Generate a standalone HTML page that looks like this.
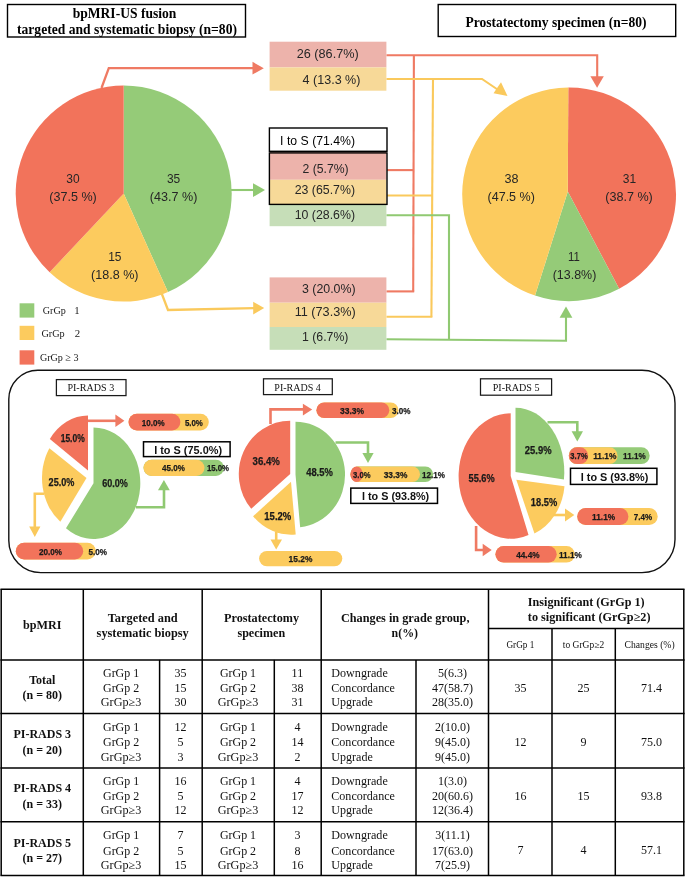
<!DOCTYPE html>
<html><head><meta charset="utf-8"><title>Figure</title>
<style>html,body{margin:0;padding:0;background:#fff}svg{display:block;will-change:transform}text{white-space:pre}</style>
</head><body>
<svg width="685" height="879" viewBox="0 0 685 879">
<rect x="0" y="0" width="685" height="879" fill="#fff"/>
<rect x="7.5" y="4.5" width="238.0" height="32.5" fill="#fff" stroke="#000" stroke-width="1.4"/>
<text x="124.5" y="18.2" font-family="'Liberation Serif', serif" font-size="13.6" font-weight="bold" text-anchor="middle" fill="#000" textLength="103.7" lengthAdjust="spacingAndGlyphs">bpMRI-US fusion</text>
<text x="127.0" y="34.1" font-family="'Liberation Serif', serif" font-size="13.6" font-weight="bold" text-anchor="middle" fill="#000" textLength="220.0" lengthAdjust="spacingAndGlyphs">targeted and systematic biopsy (n=80)</text>
<rect x="438.2" y="4.5" width="237.5" height="32.0" fill="#fff" stroke="#000" stroke-width="1.4"/>
<text x="556.0" y="26.8" font-family="'Liberation Serif', serif" font-size="13.6" font-weight="bold" text-anchor="middle" fill="#000" textLength="181.0" lengthAdjust="spacingAndGlyphs">Prostatectomy specimen (n=80)</text>
<polyline points="101.5,88.0 108.8,68.2 254.0,68.2" fill="none" stroke="#EF7A63" stroke-width="2.3" stroke-linejoin="miter"/>
<polygon points="252.5,61.8 263.8,68.2 252.5,74.6" fill="#EF7A63"/>
<polyline points="386.4,55.3 597.2,55.3 597.2,77.0" fill="none" stroke="#EF7A63" stroke-width="2.1" stroke-linejoin="miter"/>
<polygon points="590.4,76.3 603.8,76.3 597.1,87.8" fill="#EF7A63"/>
<polyline points="413.9,55.3 413.2,291.4" fill="none" stroke="#EF7A63" stroke-width="2.1" stroke-linejoin="miter"/>
<polyline points="387.0,170.1 413.7,170.1" fill="none" stroke="#EF7A63" stroke-width="2.1" stroke-linejoin="miter"/>
<polyline points="386.4,291.4 414.2,291.4" fill="none" stroke="#EF7A63" stroke-width="2.1" stroke-linejoin="miter"/>
<polyline points="161.5,293.0 168.0,310.0 254.0,308.2" fill="none" stroke="#FAC95C" stroke-width="2.3" stroke-linejoin="miter"/>
<polygon points="253.2,301.8 264.2,308.1 253.2,314.4" fill="#FAC95C"/>
<polyline points="386.4,79.0 482.0,79.0 499.0,90.5" fill="none" stroke="#FAC95C" stroke-width="2.1" stroke-linejoin="miter"/>
<polygon points="507.5,96.0 493.5,93.2 501.0,82.2" fill="#FAC95C"/>
<polyline points="433.0,79.0 431.4,316.8" fill="none" stroke="#FAC95C" stroke-width="2.1" stroke-linejoin="miter"/>
<polyline points="387.0,195.5 432.7,195.5" fill="none" stroke="#FAC95C" stroke-width="2.1" stroke-linejoin="miter"/>
<polyline points="386.4,316.8 432.4,316.8" fill="none" stroke="#FAC95C" stroke-width="2.1" stroke-linejoin="miter"/>
<polyline points="231.0,190.0 254.0,190.0" fill="none" stroke="#90C972" stroke-width="2.1" stroke-linejoin="miter"/>
<polygon points="253.0,183.2 265.0,190.0 253.0,197.0" fill="#90C972"/>
<polyline points="386.4,215.3 449.0,215.3 449.0,339.6" fill="none" stroke="#90C972" stroke-width="2.1" stroke-linejoin="miter"/>
<polyline points="386.4,339.2 566.0,340.8 566.0,317.0" fill="none" stroke="#90C972" stroke-width="2.1" stroke-linejoin="miter"/>
<polygon points="559.6,317.8 572.4,317.8 566.0,306.4" fill="#90C972"/>
<path d="M123.70,193.60 L123.70,85.60 A108,108 0 0 1 167.97,292.11 Z" fill="#95CB78"/>
<path d="M123.70,193.60 L167.97,292.11 A108,108 0 0 1 49.63,272.20 Z" fill="#FCCB5E"/>
<path d="M123.70,193.60 L49.63,272.20 A108,108 0 0 1 123.70,85.60 Z" fill="#F2735B"/>
<text x="73.0" y="183.2" font-family="'Liberation Sans', sans-serif" font-size="12.2" font-weight="normal" text-anchor="middle" fill="#262626" textLength="13.3" lengthAdjust="spacingAndGlyphs">30</text>
<text x="73.0" y="201.0" font-family="'Liberation Sans', sans-serif" font-size="12.2" font-weight="normal" text-anchor="middle" fill="#262626" textLength="47.5" lengthAdjust="spacingAndGlyphs">(37.5 %)</text>
<text x="173.6" y="183.2" font-family="'Liberation Sans', sans-serif" font-size="12.2" font-weight="normal" text-anchor="middle" fill="#262626" textLength="13.3" lengthAdjust="spacingAndGlyphs">35</text>
<text x="173.6" y="201.0" font-family="'Liberation Sans', sans-serif" font-size="12.2" font-weight="normal" text-anchor="middle" fill="#262626" textLength="47.5" lengthAdjust="spacingAndGlyphs">(43.7 %)</text>
<text x="114.8" y="261.0" font-family="'Liberation Sans', sans-serif" font-size="12.2" font-weight="normal" text-anchor="middle" fill="#262626" textLength="13.3" lengthAdjust="spacingAndGlyphs">15</text>
<text x="114.8" y="278.8" font-family="'Liberation Sans', sans-serif" font-size="12.2" font-weight="normal" text-anchor="middle" fill="#262626" textLength="47.5" lengthAdjust="spacingAndGlyphs">(18.8 %)</text>
<path d="M567.80,191.50 L568.30,87.40 A106.9,106.9 0 0 1 619.14,288.77 Z" fill="#F2735B"/>
<path d="M567.80,191.50 L619.14,288.77 A106.9,106.9 0 0 1 535.03,295.62 Z" fill="#95CB78"/>
<path d="M567.80,191.50 L535.03,295.62 A106.9,106.9 0 0 1 568.30,87.40 Z" fill="#FCCB5E"/>
<text x="511.5" y="183.0" font-family="'Liberation Sans', sans-serif" font-size="12.2" font-weight="normal" text-anchor="middle" fill="#262626" textLength="14.0" lengthAdjust="spacingAndGlyphs">38</text>
<text x="511.2" y="201.4" font-family="'Liberation Sans', sans-serif" font-size="12.2" font-weight="normal" text-anchor="middle" fill="#262626" textLength="47.3" lengthAdjust="spacingAndGlyphs">(47.5 %)</text>
<text x="629.5" y="183.0" font-family="'Liberation Sans', sans-serif" font-size="12.2" font-weight="normal" text-anchor="middle" fill="#262626" textLength="13.3" lengthAdjust="spacingAndGlyphs">31</text>
<text x="629.0" y="201.4" font-family="'Liberation Sans', sans-serif" font-size="12.2" font-weight="normal" text-anchor="middle" fill="#262626" textLength="47.5" lengthAdjust="spacingAndGlyphs">(38.7 %)</text>
<text x="574.0" y="260.6" font-family="'Liberation Sans', sans-serif" font-size="12.2" font-weight="normal" text-anchor="middle" fill="#262626" textLength="11.8" lengthAdjust="spacingAndGlyphs">11</text>
<text x="574.5" y="278.7" font-family="'Liberation Sans', sans-serif" font-size="12.2" font-weight="normal" text-anchor="middle" fill="#262626" textLength="43.6" lengthAdjust="spacingAndGlyphs">(13.8%)</text>
<rect x="269.6" y="41.7" width="116.8" height="25.7" fill="#EDB3AB"/>
<rect x="269.6" y="67.4" width="116.8" height="23.3" fill="#F7D998"/>
<text x="327.7" y="58.3" font-family="'Liberation Sans', sans-serif" font-size="12.2" font-weight="normal" text-anchor="middle" fill="#262626" textLength="61.9" lengthAdjust="spacingAndGlyphs">26 (86.7%)</text>
<text x="331.5" y="84.0" font-family="'Liberation Sans', sans-serif" font-size="12.2" font-weight="normal" text-anchor="middle" fill="#262626" textLength="57.8" lengthAdjust="spacingAndGlyphs">4 (13.3 %)</text>
<rect x="269.6" y="152.0" width="116.8" height="27.8" fill="#EDB3AB"/>
<rect x="269.6" y="179.8" width="116.8" height="24.8" fill="#F7D998"/>
<rect x="269.6" y="204.6" width="116.8" height="21.6" fill="#C6DEB8"/>
<rect x="269.4" y="128.0" width="117.6" height="23.3" fill="#fff" stroke="#000" stroke-width="1.4"/>
<rect x="269.4" y="152.9" width="117.6" height="51.5" fill="none" stroke="#000" stroke-width="1.4"/>
<text x="317.6" y="144.8" font-family="'Liberation Sans', sans-serif" font-size="12.2" font-weight="normal" text-anchor="middle" fill="#000" textLength="75.0" lengthAdjust="spacingAndGlyphs">I to S (71.4%)</text>
<text x="325.6" y="173.1" font-family="'Liberation Sans', sans-serif" font-size="12.2" font-weight="normal" text-anchor="middle" fill="#262626" textLength="46.1" lengthAdjust="spacingAndGlyphs">2 (5.7%)</text>
<text x="324.9" y="194.4" font-family="'Liberation Sans', sans-serif" font-size="12.2" font-weight="normal" text-anchor="middle" fill="#262626" textLength="60.4" lengthAdjust="spacingAndGlyphs">23 (65.7%)</text>
<text x="324.9" y="218.9" font-family="'Liberation Sans', sans-serif" font-size="12.2" font-weight="normal" text-anchor="middle" fill="#262626" textLength="60.4" lengthAdjust="spacingAndGlyphs">10 (28.6%)</text>
<rect x="269.6" y="277.4" width="116.8" height="25.3" fill="#EDB3AB"/>
<rect x="269.6" y="302.7" width="116.8" height="24.3" fill="#F7D998"/>
<rect x="269.6" y="327.0" width="116.8" height="22.8" fill="#C6DEB8"/>
<text x="328.8" y="292.9" font-family="'Liberation Sans', sans-serif" font-size="12.2" font-weight="normal" text-anchor="middle" fill="#262626" textLength="53.7" lengthAdjust="spacingAndGlyphs">3 (20.0%)</text>
<text x="325.2" y="315.9" font-family="'Liberation Sans', sans-serif" font-size="12.2" font-weight="normal" text-anchor="middle" fill="#262626" textLength="61.0" lengthAdjust="spacingAndGlyphs">11 (73.3%)</text>
<text x="325.2" y="341.0" font-family="'Liberation Sans', sans-serif" font-size="12.2" font-weight="normal" text-anchor="middle" fill="#262626" textLength="46.4" lengthAdjust="spacingAndGlyphs">1 (6.7%)</text>
<rect x="19.6" y="303.3" width="14.7" height="14.3" fill="#95CB78"/>
<rect x="19.6" y="325.8" width="14.7" height="14.2" fill="#FCCB5E"/>
<rect x="19.6" y="350.3" width="14.7" height="14.3" fill="#F2735B"/>
<text x="42.8" y="313.5" font-family="'Liberation Serif', serif" font-size="10.8" fill="#1a1a1a" textLength="23.0" lengthAdjust="spacingAndGlyphs">GrGp</text>
<text x="74.2" y="313.5" font-family="'Liberation Serif', serif" font-size="10.8" fill="#1a1a1a">1</text>
<text x="41.4" y="336.9" font-family="'Liberation Serif', serif" font-size="10.8" fill="#1a1a1a" textLength="23.3" lengthAdjust="spacingAndGlyphs">GrGp</text>
<text x="74.7" y="336.9" font-family="'Liberation Serif', serif" font-size="10.8" fill="#1a1a1a">2</text>
<text x="39.9" y="360.6" font-family="'Liberation Serif', serif" font-size="10.8" fill="#1a1a1a" textLength="38.7" lengthAdjust="spacingAndGlyphs">GrGp ≥ 3</text>
<path d="M37.8,370.3 H642.0 A33,33 0 0 1 675.0,403.3 V539.6 A33,33 0 0 1 642.0,572.6 H40.8 A32,32 0 0 1 8.8,540.6 V399.3 A29,29 0 0 1 37.8,370.3 Z" fill="none" stroke="#111" stroke-width="1.4"/>
<rect x="56.4" y="379.6" width="69.6" height="16.0" fill="#fff" stroke="#1a1a1a" stroke-width="1.25"/>
<text x="90.8" y="391.4" font-family="'Liberation Serif', serif" font-size="10" font-weight="normal" text-anchor="middle" fill="#111" textLength="46.8" lengthAdjust="spacingAndGlyphs">PI-RADS 3</text>
<path d="M93.50,483.20 L93.50,427.40 A46.8,55.8 0 1 1 65.99,528.34 Z" fill="#95CB78"/>
<path d="M86.50,478.00 L60.34,521.69 A44.5,54 0 0 1 49.39,448.20 Z" fill="#FCCB5E"/>
<path d="M88.00,470.50 L49.83,438.95 A46.6,55 0 0 1 88.00,415.50 Z" fill="#F2735B"/>
<polyline points="88.0,420.8 116.0,420.8" fill="none" stroke="#EF7A63" stroke-width="2.6" stroke-linejoin="miter"/>
<polygon points="115.4,414.6 124.4,420.8 115.4,427.0" fill="#EF7A63"/>
<rect x="128.5" y="413.7" width="80.3" height="16.7" fill="#FCCB5E" rx="8.349999999999994" ry="8.349999999999994"/>
<rect x="128.5" y="413.7" width="51.9" height="16.7" fill="#F2735B" rx="8.349999999999994" ry="8.349999999999994"/>
<text x="153.2" y="425.5" font-family="'Liberation Sans', sans-serif" font-size="9.3" font-weight="bold" text-anchor="middle" fill="#1a1a1a" textLength="22.8" lengthAdjust="spacingAndGlyphs" stroke="#1a1a1a" stroke-width="0.25">10.0%</text>
<text x="193.9" y="425.5" font-family="'Liberation Sans', sans-serif" font-size="9.3" font-weight="bold" text-anchor="middle" fill="#1a1a1a" textLength="18.0" lengthAdjust="spacingAndGlyphs" stroke="#1a1a1a" stroke-width="0.25">5.0%</text>
<rect x="143.5" y="441.8" width="86.6" height="14.8" fill="#fff" stroke="#000" stroke-width="1.5"/>
<text x="188.1" y="454.1" font-family="'Liberation Sans', sans-serif" font-size="10.8" font-weight="bold" text-anchor="middle" fill="#111" textLength="67.9" lengthAdjust="spacingAndGlyphs">I to S (75.0%)</text>
<rect x="143.5" y="459.8" width="80.5" height="16.1" fill="#95CB78" rx="8.049999999999983" ry="8.049999999999983"/>
<rect x="143.5" y="459.8" width="61.0" height="16.1" fill="#FCCB5E" rx="8.049999999999983" ry="8.049999999999983"/>
<text x="173.5" y="471.3" font-family="'Liberation Sans', sans-serif" font-size="9.3" font-weight="bold" text-anchor="middle" fill="#1a1a1a" textLength="22.8" lengthAdjust="spacingAndGlyphs" stroke="#1a1a1a" stroke-width="0.25">45.0%</text>
<text x="218.0" y="471.3" font-family="'Liberation Sans', sans-serif" font-size="9.3" font-weight="bold" text-anchor="middle" fill="#1a1a1a" textLength="22.2" lengthAdjust="spacingAndGlyphs" stroke="#1a1a1a" stroke-width="0.25">15.0%</text>
<polyline points="136.0,507.3 164.0,507.3 164.0,489.5" fill="none" stroke="#90C972" stroke-width="2.6" stroke-linejoin="miter"/>
<polygon points="158.0,490.2 169.8,490.2 163.9,480.0" fill="#90C972"/>
<polyline points="44.0,493.7 34.8,493.7 34.8,527.0" fill="none" stroke="#FAC95C" stroke-width="2.6" stroke-linejoin="miter"/>
<polygon points="29.2,526.6 40.4,526.6 34.8,537.0" fill="#FAC95C"/>
<rect x="15.8" y="542.8" width="80.0" height="16.7" fill="#FCCB5E" rx="8.350000000000023" ry="8.350000000000023"/>
<rect x="15.8" y="542.8" width="67.4" height="16.7" fill="#F2735B" rx="8.350000000000023" ry="8.350000000000023"/>
<text x="50.5" y="554.6" font-family="'Liberation Sans', sans-serif" font-size="9.3" font-weight="bold" text-anchor="middle" fill="#1a1a1a" textLength="23.0" lengthAdjust="spacingAndGlyphs" stroke="#1a1a1a" stroke-width="0.25">20.0%</text>
<text x="97.7" y="554.6" font-family="'Liberation Sans', sans-serif" font-size="9.3" font-weight="bold" text-anchor="middle" fill="#1a1a1a" textLength="18.6" lengthAdjust="spacingAndGlyphs" stroke="#1a1a1a" stroke-width="0.25">5.0%</text>
<rect x="263.5" y="378.8" width="68.8" height="15.8" fill="#fff" stroke="#1a1a1a" stroke-width="1.25"/>
<text x="297.6" y="390.5" font-family="'Liberation Serif', serif" font-size="10" font-weight="normal" text-anchor="middle" fill="#111" textLength="46.5" lengthAdjust="spacingAndGlyphs">PI-RADS 4</text>
<path d="M295.50,474.60 L295.50,421.80 A49.5,52.8 0 0 1 300.16,527.17 Z" fill="#95CB78"/>
<path d="M291.00,481.70 L295.71,534.46 A50,53 0 0 1 253.09,516.26 Z" fill="#FCCB5E"/>
<path d="M290.20,474.00 L251.23,508.69 A51.4,53.2 0 0 1 290.20,420.80 Z" fill="#F2735B"/>
<polyline points="270.5,424.0 270.5,409.4 303.5,409.4" fill="none" stroke="#EF7A63" stroke-width="2.6" stroke-linejoin="miter"/>
<polygon points="302.9,403.7 312.2,409.5 302.9,415.4" fill="#EF7A63"/>
<rect x="316.4" y="402.4" width="82.1" height="15.6" fill="#FCCB5E" rx="7.800000000000011" ry="7.800000000000011"/>
<rect x="316.4" y="402.4" width="72.9" height="15.6" fill="#F2735B" rx="7.800000000000011" ry="7.800000000000011"/>
<text x="352.1" y="413.6" font-family="'Liberation Sans', sans-serif" font-size="9.3" font-weight="bold" text-anchor="middle" fill="#1a1a1a" textLength="24.1" lengthAdjust="spacingAndGlyphs" stroke="#1a1a1a" stroke-width="0.25">33.3%</text>
<text x="401.3" y="413.6" font-family="'Liberation Sans', sans-serif" font-size="9.3" font-weight="bold" text-anchor="middle" fill="#1a1a1a" textLength="18.6" lengthAdjust="spacingAndGlyphs" stroke="#1a1a1a" stroke-width="0.25">3.0%</text>
<polyline points="335.5,442.5 368.0,442.5 368.0,453.5" fill="none" stroke="#90C972" stroke-width="2.6" stroke-linejoin="miter"/>
<polygon points="362.4,453.0 373.6,453.0 368.0,463.0" fill="#90C972"/>
<rect x="350.4" y="466.4" width="82.7" height="15.6" fill="#95CB78" rx="7.800000000000011" ry="7.800000000000011"/>
<rect x="350.4" y="466.4" width="69.6" height="15.6" fill="#FCCB5E" rx="7.800000000000011" ry="7.800000000000011"/>
<rect x="350.4" y="466.4" width="12.4" height="15.6" fill="#F2735B" rx="7.800000000000011" ry="7.800000000000011"/>
<text x="361.8" y="477.7" font-family="'Liberation Sans', sans-serif" font-size="9.3" font-weight="bold" text-anchor="middle" fill="#1a1a1a" textLength="17.5" lengthAdjust="spacingAndGlyphs" stroke="#1a1a1a" stroke-width="0.25">3.0%</text>
<text x="395.5" y="477.7" font-family="'Liberation Sans', sans-serif" font-size="9.3" font-weight="bold" text-anchor="middle" fill="#1a1a1a" textLength="23.7" lengthAdjust="spacingAndGlyphs" stroke="#1a1a1a" stroke-width="0.25">33.3%</text>
<text x="433.5" y="477.7" font-family="'Liberation Sans', sans-serif" font-size="9.3" font-weight="bold" text-anchor="middle" fill="#1a1a1a" textLength="23.0" lengthAdjust="spacingAndGlyphs" stroke="#1a1a1a" stroke-width="0.25">12.1%</text>
<rect x="350.8" y="488.1" width="86.7" height="15.3" fill="#fff" stroke="#000" stroke-width="1.5"/>
<text x="395.6" y="499.6" font-family="'Liberation Sans', sans-serif" font-size="10.8" font-weight="bold" text-anchor="middle" fill="#111" textLength="67.2" lengthAdjust="spacingAndGlyphs">I to S (93.8%)</text>
<polyline points="276.2,532.0 276.2,540.0" fill="none" stroke="#FAC95C" stroke-width="2.6" stroke-linejoin="miter"/>
<polygon points="270.5,539.5 282.0,539.5 276.2,549.5" fill="#FAC95C"/>
<rect x="259.1" y="550.9" width="83.2" height="15.4" fill="#FCCB5E" rx="7.699999999999989" ry="7.699999999999989"/>
<text x="300.5" y="561.5" font-family="'Liberation Sans', sans-serif" font-size="9.3" font-weight="bold" text-anchor="middle" fill="#1a1a1a" textLength="23.8" lengthAdjust="spacingAndGlyphs" stroke="#1a1a1a" stroke-width="0.25">15.2%</text>
<rect x="480.5" y="378.8" width="71.1" height="16.4" fill="#fff" stroke="#1a1a1a" stroke-width="1.25"/>
<text x="516.1" y="390.8" font-family="'Liberation Serif', serif" font-size="10" font-weight="normal" text-anchor="middle" fill="#111" textLength="46.9" lengthAdjust="spacingAndGlyphs">PI-RADS 5</text>
<path d="M515.50,472.00 L515.50,407.70 A48.8,64.3 0 0 1 563.96,479.61 Z" fill="#95CB78"/>
<path d="M516.30,479.80 L564.50,486.27 A48.5,58 0 0 1 534.47,533.58 Z" fill="#FCCB5E"/>
<path d="M510.70,476.00 L528.52,534.92 A52.1,62.7 0 1 1 510.70,413.30 Z" fill="#F2735B"/>
<polyline points="547.5,422.3 577.3,422.3 577.3,432.0" fill="none" stroke="#90C972" stroke-width="2.6" stroke-linejoin="miter"/>
<polygon points="571.6,431.3 583.0,431.3 577.3,441.4" fill="#90C972"/>
<rect x="568.8" y="447.3" width="80.9" height="16.8" fill="#95CB78" rx="8.400000000000006" ry="8.400000000000006"/>
<rect x="568.8" y="447.3" width="48.8" height="16.8" fill="#FCCB5E" rx="8.400000000000006" ry="8.400000000000006"/>
<rect x="568.8" y="447.3" width="19.4" height="16.8" fill="#F2735B" rx="8.400000000000006" ry="8.400000000000006"/>
<text x="579.0" y="459.2" font-family="'Liberation Sans', sans-serif" font-size="9.3" font-weight="bold" text-anchor="middle" fill="#1a1a1a" textLength="17.3" lengthAdjust="spacingAndGlyphs" stroke="#1a1a1a" stroke-width="0.25">3.7%</text>
<text x="604.8" y="459.2" font-family="'Liberation Sans', sans-serif" font-size="9.3" font-weight="bold" text-anchor="middle" fill="#1a1a1a" textLength="23.3" lengthAdjust="spacingAndGlyphs" stroke="#1a1a1a" stroke-width="0.25">11.1%</text>
<text x="634.4" y="459.2" font-family="'Liberation Sans', sans-serif" font-size="9.3" font-weight="bold" text-anchor="middle" fill="#1a1a1a" textLength="22.6" lengthAdjust="spacingAndGlyphs" stroke="#1a1a1a" stroke-width="0.25">11.1%</text>
<rect x="570.5" y="468.3" width="86.4" height="16.1" fill="#fff" stroke="#000" stroke-width="1.5"/>
<text x="614.6" y="480.5" font-family="'Liberation Sans', sans-serif" font-size="10.8" font-weight="bold" text-anchor="middle" fill="#111" textLength="67.6" lengthAdjust="spacingAndGlyphs">I to S (93.8%)</text>
<polyline points="553.0,515.0 566.0,515.0" fill="none" stroke="#FAC95C" stroke-width="2.6" stroke-linejoin="miter"/>
<polygon points="565.0,508.6 574.3,515.0 565.0,521.5" fill="#FAC95C"/>
<rect x="577.2" y="508.0" width="80.5" height="17.0" fill="#FCCB5E" rx="8.5" ry="8.5"/>
<rect x="577.2" y="508.0" width="51.2" height="17.0" fill="#F2735B" rx="8.5" ry="8.5"/>
<text x="603.6" y="520.0" font-family="'Liberation Sans', sans-serif" font-size="9.3" font-weight="bold" text-anchor="middle" fill="#1a1a1a" textLength="23.0" lengthAdjust="spacingAndGlyphs" stroke="#1a1a1a" stroke-width="0.25">11.1%</text>
<text x="643.0" y="520.0" font-family="'Liberation Sans', sans-serif" font-size="9.3" font-weight="bold" text-anchor="middle" fill="#1a1a1a" textLength="18.3" lengthAdjust="spacingAndGlyphs" stroke="#1a1a1a" stroke-width="0.25">7.4%</text>
<polyline points="476.1,526.0 476.1,550.0 483.5,550.0" fill="none" stroke="#EF7A63" stroke-width="2.6" stroke-linejoin="miter"/>
<polygon points="482.7,543.8 491.7,550.0 482.7,556.3" fill="#EF7A63"/>
<rect x="495.4" y="546.0" width="79.4" height="16.6" fill="#FCCB5E" rx="8.300000000000011" ry="8.300000000000011"/>
<rect x="495.4" y="546.0" width="61.3" height="16.6" fill="#F2735B" rx="8.300000000000011" ry="8.300000000000011"/>
<text x="527.9" y="557.8" font-family="'Liberation Sans', sans-serif" font-size="9.3" font-weight="bold" text-anchor="middle" fill="#1a1a1a" textLength="23.4" lengthAdjust="spacingAndGlyphs" stroke="#1a1a1a" stroke-width="0.25">44.4%</text>
<text x="570.4" y="557.8" font-family="'Liberation Sans', sans-serif" font-size="9.3" font-weight="bold" text-anchor="middle" fill="#1a1a1a" textLength="23.0" lengthAdjust="spacingAndGlyphs" stroke="#1a1a1a" stroke-width="0.25">11.1%</text>
<text x="72.7" y="442.0" font-family="'Liberation Sans', sans-serif" font-size="10.4" font-weight="bold" text-anchor="middle" fill="#1a1a1a" textLength="24.0" lengthAdjust="spacingAndGlyphs" stroke="#1a1a1a" stroke-width="0.25">15.0%</text>
<text x="61.5" y="485.8" font-family="'Liberation Sans', sans-serif" font-size="10.4" font-weight="bold" text-anchor="middle" fill="#1a1a1a" textLength="25.8" lengthAdjust="spacingAndGlyphs" stroke="#1a1a1a" stroke-width="0.25">25.0%</text>
<text x="115.1" y="487.3" font-family="'Liberation Sans', sans-serif" font-size="10.4" font-weight="bold" text-anchor="middle" fill="#1a1a1a" textLength="25.6" lengthAdjust="spacingAndGlyphs" stroke="#1a1a1a" stroke-width="0.25">60.0%</text>
<text x="266.2" y="464.6" font-family="'Liberation Sans', sans-serif" font-size="10.4" font-weight="bold" text-anchor="middle" fill="#1a1a1a" textLength="27.3" lengthAdjust="spacingAndGlyphs" stroke="#1a1a1a" stroke-width="0.25">36.4%</text>
<text x="319.5" y="476.0" font-family="'Liberation Sans', sans-serif" font-size="10.4" font-weight="bold" text-anchor="middle" fill="#1a1a1a" textLength="26.7" lengthAdjust="spacingAndGlyphs" stroke="#1a1a1a" stroke-width="0.25">48.5%</text>
<text x="277.8" y="519.7" font-family="'Liberation Sans', sans-serif" font-size="10.4" font-weight="bold" text-anchor="middle" fill="#1a1a1a" textLength="26.9" lengthAdjust="spacingAndGlyphs" stroke="#1a1a1a" stroke-width="0.25">15.2%</text>
<text x="538.2" y="453.6" font-family="'Liberation Sans', sans-serif" font-size="10.4" font-weight="bold" text-anchor="middle" fill="#1a1a1a" textLength="26.7" lengthAdjust="spacingAndGlyphs" stroke="#1a1a1a" stroke-width="0.25">25.9%</text>
<text x="481.6" y="482.1" font-family="'Liberation Sans', sans-serif" font-size="10.4" font-weight="bold" text-anchor="middle" fill="#1a1a1a" textLength="26.1" lengthAdjust="spacingAndGlyphs" stroke="#1a1a1a" stroke-width="0.25">55.6%</text>
<text x="544.0" y="506.2" font-family="'Liberation Sans', sans-serif" font-size="10.4" font-weight="bold" text-anchor="middle" fill="#1a1a1a" textLength="26.3" lengthAdjust="spacingAndGlyphs" stroke="#1a1a1a" stroke-width="0.25">18.5%</text>
<line x1="0.44999999999999996" y1="589.3" x2="684.55" y2="589.3" stroke="#000" stroke-width="1.5"/>
<line x1="0.44999999999999996" y1="659.9" x2="684.55" y2="659.9" stroke="#000" stroke-width="1.5"/>
<line x1="0.44999999999999996" y1="713.6" x2="684.55" y2="713.6" stroke="#000" stroke-width="1.5"/>
<line x1="0.44999999999999996" y1="767.9" x2="684.55" y2="767.9" stroke="#000" stroke-width="1.5"/>
<line x1="0.44999999999999996" y1="821.8" x2="684.55" y2="821.8" stroke="#000" stroke-width="1.5"/>
<line x1="0.44999999999999996" y1="875.6" x2="684.55" y2="875.6" stroke="#000" stroke-width="1.5"/>
<line x1="488.5" y1="628.4" x2="683.8" y2="628.4" stroke="#000" stroke-width="1.5"/>
<line x1="1.2" y1="589.3" x2="1.2" y2="875.6" stroke="#000" stroke-width="1.5"/>
<line x1="83.3" y1="589.3" x2="83.3" y2="875.6" stroke="#000" stroke-width="1.5"/>
<line x1="202.2" y1="589.3" x2="202.2" y2="875.6" stroke="#000" stroke-width="1.5"/>
<line x1="321.2" y1="589.3" x2="321.2" y2="875.6" stroke="#000" stroke-width="1.5"/>
<line x1="488.5" y1="589.3" x2="488.5" y2="875.6" stroke="#000" stroke-width="1.5"/>
<line x1="683.8" y1="589.3" x2="683.8" y2="875.6" stroke="#000" stroke-width="1.5"/>
<line x1="159.6" y1="659.9" x2="159.6" y2="875.6" stroke="#000" stroke-width="1.5"/>
<line x1="274.3" y1="659.9" x2="274.3" y2="875.6" stroke="#000" stroke-width="1.5"/>
<line x1="416" y1="659.9" x2="416" y2="875.6" stroke="#000" stroke-width="1.5"/>
<line x1="552" y1="628.4" x2="552" y2="875.6" stroke="#000" stroke-width="1.5"/>
<line x1="615.3" y1="628.4" x2="615.3" y2="875.6" stroke="#000" stroke-width="1.5"/>
<text x="42.3" y="629.1" font-family="'Liberation Serif', serif" font-size="12" font-weight="bold" text-anchor="middle" fill="#111" textLength="38.5" lengthAdjust="spacingAndGlyphs">bpMRI</text>
<text x="142.7" y="621.6" font-family="'Liberation Serif', serif" font-size="12" font-weight="bold" text-anchor="middle" fill="#111" textLength="70.0" lengthAdjust="spacingAndGlyphs">Targeted and</text>
<text x="142.7" y="636.6" font-family="'Liberation Serif', serif" font-size="12" font-weight="bold" text-anchor="middle" fill="#111" textLength="92.2" lengthAdjust="spacingAndGlyphs">systematic biopsy</text>
<text x="261.5" y="621.6" font-family="'Liberation Serif', serif" font-size="12" font-weight="bold" text-anchor="middle" fill="#111" textLength="75.0" lengthAdjust="spacingAndGlyphs">Prostatectomy</text>
<text x="261.3" y="636.6" font-family="'Liberation Serif', serif" font-size="12" font-weight="bold" text-anchor="middle" fill="#111" textLength="47.7" lengthAdjust="spacingAndGlyphs">specimen</text>
<text x="405.2" y="621.6" font-family="'Liberation Serif', serif" font-size="12" font-weight="bold" text-anchor="middle" fill="#111" textLength="128.6" lengthAdjust="spacingAndGlyphs">Changes in grade group,</text>
<text x="404.8" y="636.6" font-family="'Liberation Serif', serif" font-size="12" font-weight="bold" text-anchor="middle" fill="#111" textLength="26.4" lengthAdjust="spacingAndGlyphs">n(%)</text>
<text x="586.2" y="605.9" font-family="'Liberation Serif', serif" font-size="12" font-weight="bold" text-anchor="middle" fill="#111" textLength="116.7" lengthAdjust="spacingAndGlyphs">Insignificant (GrGp 1)</text>
<text x="589.2" y="620.9" font-family="'Liberation Serif', serif" font-size="12" font-weight="bold" text-anchor="middle" fill="#111" textLength="122.7" lengthAdjust="spacingAndGlyphs">to significant (GrGp≥2)</text>
<text x="520.4" y="647.9" font-family="'Liberation Serif', serif" font-size="9.3" font-weight="normal" text-anchor="middle" fill="#111" textLength="28.0" lengthAdjust="spacingAndGlyphs">GrGp 1</text>
<text x="583.5" y="647.9" font-family="'Liberation Serif', serif" font-size="9.3" font-weight="normal" text-anchor="middle" fill="#111" textLength="41.3" lengthAdjust="spacingAndGlyphs">to GrGp≥2</text>
<text x="649.6" y="647.9" font-family="'Liberation Serif', serif" font-size="9.3" font-weight="normal" text-anchor="middle" fill="#111" textLength="50.0" lengthAdjust="spacingAndGlyphs">Changes (%)</text>
<text x="42.3" y="684.0" font-family="'Liberation Serif', serif" font-size="12" font-weight="bold" text-anchor="middle" fill="#111">Total</text>
<text x="42.3" y="699.1" font-family="'Liberation Serif', serif" font-size="12" font-weight="bold" text-anchor="middle" fill="#111">(n = 80)</text>
<text x="121.1" y="676.8" font-family="'Liberation Serif', serif" font-size="12" font-weight="normal" text-anchor="middle" fill="#111" textLength="36.2" lengthAdjust="spacingAndGlyphs">GrGp 1</text>
<text x="238.0" y="676.8" font-family="'Liberation Serif', serif" font-size="12" font-weight="normal" text-anchor="middle" fill="#111" textLength="36.2" lengthAdjust="spacingAndGlyphs">GrGp 1</text>
<text x="180.6" y="676.8" font-family="'Liberation Serif', serif" font-size="12" font-weight="normal" text-anchor="middle" fill="#111">35</text>
<text x="297.4" y="676.8" font-family="'Liberation Serif', serif" font-size="12" font-weight="normal" text-anchor="middle" fill="#111">11</text>
<text x="452.4" y="676.8" font-family="'Liberation Serif', serif" font-size="12" font-weight="normal" text-anchor="middle" fill="#111">5(6.3)</text>
<text x="121.1" y="691.7" font-family="'Liberation Serif', serif" font-size="12" font-weight="normal" text-anchor="middle" fill="#111" textLength="36.2" lengthAdjust="spacingAndGlyphs">GrGp 2</text>
<text x="238.0" y="691.7" font-family="'Liberation Serif', serif" font-size="12" font-weight="normal" text-anchor="middle" fill="#111" textLength="36.2" lengthAdjust="spacingAndGlyphs">GrGp 2</text>
<text x="180.6" y="691.7" font-family="'Liberation Serif', serif" font-size="12" font-weight="normal" text-anchor="middle" fill="#111">15</text>
<text x="297.4" y="691.7" font-family="'Liberation Serif', serif" font-size="12" font-weight="normal" text-anchor="middle" fill="#111">38</text>
<text x="452.4" y="691.7" font-family="'Liberation Serif', serif" font-size="12" font-weight="normal" text-anchor="middle" fill="#111">47(58.7)</text>
<text x="121.1" y="705.8" font-family="'Liberation Serif', serif" font-size="12" font-weight="normal" text-anchor="middle" fill="#111" textLength="40.6" lengthAdjust="spacingAndGlyphs">GrGp≥3</text>
<text x="238.0" y="705.8" font-family="'Liberation Serif', serif" font-size="12" font-weight="normal" text-anchor="middle" fill="#111" textLength="40.6" lengthAdjust="spacingAndGlyphs">GrGp≥3</text>
<text x="180.6" y="705.8" font-family="'Liberation Serif', serif" font-size="12" font-weight="normal" text-anchor="middle" fill="#111">30</text>
<text x="297.4" y="705.8" font-family="'Liberation Serif', serif" font-size="12" font-weight="normal" text-anchor="middle" fill="#111">31</text>
<text x="452.4" y="705.8" font-family="'Liberation Serif', serif" font-size="12" font-weight="normal" text-anchor="middle" fill="#111">28(35.0)</text>
<text x="331.3" y="676.8" font-family="'Liberation Serif', serif" font-size="12" font-weight="normal" text-anchor="start" fill="#111" textLength="56.5" lengthAdjust="spacingAndGlyphs">Downgrade</text>
<text x="331.3" y="691.7" font-family="'Liberation Serif', serif" font-size="12" font-weight="normal" text-anchor="start" fill="#111" textLength="63.6" lengthAdjust="spacingAndGlyphs">Concordance</text>
<text x="331.3" y="705.8" font-family="'Liberation Serif', serif" font-size="12" font-weight="normal" text-anchor="start" fill="#111" textLength="41.5" lengthAdjust="spacingAndGlyphs">Upgrade</text>
<text x="520.4" y="692.1" font-family="'Liberation Serif', serif" font-size="12" font-weight="normal" text-anchor="middle" fill="#111">35</text>
<text x="583.4" y="692.1" font-family="'Liberation Serif', serif" font-size="12" font-weight="normal" text-anchor="middle" fill="#111">25</text>
<text x="651.4" y="692.1" font-family="'Liberation Serif', serif" font-size="12" font-weight="normal" text-anchor="middle" fill="#111">71.4</text>
<text x="42.3" y="738.2" font-family="'Liberation Serif', serif" font-size="12" font-weight="bold" text-anchor="middle" fill="#111">PI-RADS 3</text>
<text x="42.3" y="754.4" font-family="'Liberation Serif', serif" font-size="12" font-weight="bold" text-anchor="middle" fill="#111">(n = 20)</text>
<text x="121.1" y="731.2" font-family="'Liberation Serif', serif" font-size="12" font-weight="normal" text-anchor="middle" fill="#111" textLength="36.2" lengthAdjust="spacingAndGlyphs">GrGp 1</text>
<text x="238.0" y="731.2" font-family="'Liberation Serif', serif" font-size="12" font-weight="normal" text-anchor="middle" fill="#111" textLength="36.2" lengthAdjust="spacingAndGlyphs">GrGp 1</text>
<text x="180.6" y="731.2" font-family="'Liberation Serif', serif" font-size="12" font-weight="normal" text-anchor="middle" fill="#111">12</text>
<text x="297.4" y="731.2" font-family="'Liberation Serif', serif" font-size="12" font-weight="normal" text-anchor="middle" fill="#111">4</text>
<text x="452.4" y="731.2" font-family="'Liberation Serif', serif" font-size="12" font-weight="normal" text-anchor="middle" fill="#111">2(10.0)</text>
<text x="121.1" y="746.4" font-family="'Liberation Serif', serif" font-size="12" font-weight="normal" text-anchor="middle" fill="#111" textLength="36.2" lengthAdjust="spacingAndGlyphs">GrGp 2</text>
<text x="238.0" y="746.4" font-family="'Liberation Serif', serif" font-size="12" font-weight="normal" text-anchor="middle" fill="#111" textLength="36.2" lengthAdjust="spacingAndGlyphs">GrGp 2</text>
<text x="180.6" y="746.4" font-family="'Liberation Serif', serif" font-size="12" font-weight="normal" text-anchor="middle" fill="#111">5</text>
<text x="297.4" y="746.4" font-family="'Liberation Serif', serif" font-size="12" font-weight="normal" text-anchor="middle" fill="#111">14</text>
<text x="452.4" y="746.4" font-family="'Liberation Serif', serif" font-size="12" font-weight="normal" text-anchor="middle" fill="#111">9(45.0)</text>
<text x="121.1" y="760.8" font-family="'Liberation Serif', serif" font-size="12" font-weight="normal" text-anchor="middle" fill="#111" textLength="40.6" lengthAdjust="spacingAndGlyphs">GrGp≥3</text>
<text x="238.0" y="760.8" font-family="'Liberation Serif', serif" font-size="12" font-weight="normal" text-anchor="middle" fill="#111" textLength="40.6" lengthAdjust="spacingAndGlyphs">GrGp≥3</text>
<text x="180.6" y="760.8" font-family="'Liberation Serif', serif" font-size="12" font-weight="normal" text-anchor="middle" fill="#111">3</text>
<text x="297.4" y="760.8" font-family="'Liberation Serif', serif" font-size="12" font-weight="normal" text-anchor="middle" fill="#111">2</text>
<text x="452.4" y="760.8" font-family="'Liberation Serif', serif" font-size="12" font-weight="normal" text-anchor="middle" fill="#111">9(45.0)</text>
<text x="331.3" y="731.2" font-family="'Liberation Serif', serif" font-size="12" font-weight="normal" text-anchor="start" fill="#111" textLength="56.5" lengthAdjust="spacingAndGlyphs">Downgrade</text>
<text x="331.3" y="746.4" font-family="'Liberation Serif', serif" font-size="12" font-weight="normal" text-anchor="start" fill="#111" textLength="63.6" lengthAdjust="spacingAndGlyphs">Concordance</text>
<text x="331.3" y="760.8" font-family="'Liberation Serif', serif" font-size="12" font-weight="normal" text-anchor="start" fill="#111" textLength="41.5" lengthAdjust="spacingAndGlyphs">Upgrade</text>
<text x="520.4" y="745.8" font-family="'Liberation Serif', serif" font-size="12" font-weight="normal" text-anchor="middle" fill="#111">12</text>
<text x="583.4" y="745.8" font-family="'Liberation Serif', serif" font-size="12" font-weight="normal" text-anchor="middle" fill="#111">9</text>
<text x="651.4" y="745.8" font-family="'Liberation Serif', serif" font-size="12" font-weight="normal" text-anchor="middle" fill="#111">75.0</text>
<text x="42.3" y="792.2" font-family="'Liberation Serif', serif" font-size="12" font-weight="bold" text-anchor="middle" fill="#111">PI-RADS 4</text>
<text x="42.3" y="808.0" font-family="'Liberation Serif', serif" font-size="12" font-weight="bold" text-anchor="middle" fill="#111">(n = 33)</text>
<text x="121.1" y="785.2" font-family="'Liberation Serif', serif" font-size="12" font-weight="normal" text-anchor="middle" fill="#111" textLength="36.2" lengthAdjust="spacingAndGlyphs">GrGp 1</text>
<text x="238.0" y="785.2" font-family="'Liberation Serif', serif" font-size="12" font-weight="normal" text-anchor="middle" fill="#111" textLength="36.2" lengthAdjust="spacingAndGlyphs">GrGp 1</text>
<text x="180.6" y="785.2" font-family="'Liberation Serif', serif" font-size="12" font-weight="normal" text-anchor="middle" fill="#111">16</text>
<text x="297.4" y="785.2" font-family="'Liberation Serif', serif" font-size="12" font-weight="normal" text-anchor="middle" fill="#111">4</text>
<text x="452.4" y="785.2" font-family="'Liberation Serif', serif" font-size="12" font-weight="normal" text-anchor="middle" fill="#111">1(3.0)</text>
<text x="121.1" y="800.3" font-family="'Liberation Serif', serif" font-size="12" font-weight="normal" text-anchor="middle" fill="#111" textLength="36.2" lengthAdjust="spacingAndGlyphs">GrGp 2</text>
<text x="238.0" y="800.3" font-family="'Liberation Serif', serif" font-size="12" font-weight="normal" text-anchor="middle" fill="#111" textLength="36.2" lengthAdjust="spacingAndGlyphs">GrGp 2</text>
<text x="180.6" y="800.3" font-family="'Liberation Serif', serif" font-size="12" font-weight="normal" text-anchor="middle" fill="#111">5</text>
<text x="297.4" y="800.3" font-family="'Liberation Serif', serif" font-size="12" font-weight="normal" text-anchor="middle" fill="#111">17</text>
<text x="452.4" y="800.3" font-family="'Liberation Serif', serif" font-size="12" font-weight="normal" text-anchor="middle" fill="#111">20(60.6)</text>
<text x="121.1" y="814.3" font-family="'Liberation Serif', serif" font-size="12" font-weight="normal" text-anchor="middle" fill="#111" textLength="40.6" lengthAdjust="spacingAndGlyphs">GrGp≥3</text>
<text x="238.0" y="814.3" font-family="'Liberation Serif', serif" font-size="12" font-weight="normal" text-anchor="middle" fill="#111" textLength="40.6" lengthAdjust="spacingAndGlyphs">GrGp≥3</text>
<text x="180.6" y="814.3" font-family="'Liberation Serif', serif" font-size="12" font-weight="normal" text-anchor="middle" fill="#111">12</text>
<text x="297.4" y="814.3" font-family="'Liberation Serif', serif" font-size="12" font-weight="normal" text-anchor="middle" fill="#111">12</text>
<text x="452.4" y="814.3" font-family="'Liberation Serif', serif" font-size="12" font-weight="normal" text-anchor="middle" fill="#111">12(36.4)</text>
<text x="331.3" y="785.2" font-family="'Liberation Serif', serif" font-size="12" font-weight="normal" text-anchor="start" fill="#111" textLength="56.5" lengthAdjust="spacingAndGlyphs">Downgrade</text>
<text x="331.3" y="800.3" font-family="'Liberation Serif', serif" font-size="12" font-weight="normal" text-anchor="start" fill="#111" textLength="63.6" lengthAdjust="spacingAndGlyphs">Concordance</text>
<text x="331.3" y="814.3" font-family="'Liberation Serif', serif" font-size="12" font-weight="normal" text-anchor="start" fill="#111" textLength="41.5" lengthAdjust="spacingAndGlyphs">Upgrade</text>
<text x="520.4" y="800.0" font-family="'Liberation Serif', serif" font-size="12" font-weight="normal" text-anchor="middle" fill="#111">16</text>
<text x="583.4" y="800.0" font-family="'Liberation Serif', serif" font-size="12" font-weight="normal" text-anchor="middle" fill="#111">15</text>
<text x="651.4" y="800.0" font-family="'Liberation Serif', serif" font-size="12" font-weight="normal" text-anchor="middle" fill="#111">93.8</text>
<text x="42.3" y="847.0" font-family="'Liberation Serif', serif" font-size="12" font-weight="bold" text-anchor="middle" fill="#111">PI-RADS 5</text>
<text x="42.3" y="862.2" font-family="'Liberation Serif', serif" font-size="12" font-weight="bold" text-anchor="middle" fill="#111">(n = 27)</text>
<text x="121.1" y="839.2" font-family="'Liberation Serif', serif" font-size="12" font-weight="normal" text-anchor="middle" fill="#111" textLength="36.2" lengthAdjust="spacingAndGlyphs">GrGp 1</text>
<text x="238.0" y="839.2" font-family="'Liberation Serif', serif" font-size="12" font-weight="normal" text-anchor="middle" fill="#111" textLength="36.2" lengthAdjust="spacingAndGlyphs">GrGp 1</text>
<text x="180.6" y="839.2" font-family="'Liberation Serif', serif" font-size="12" font-weight="normal" text-anchor="middle" fill="#111">7</text>
<text x="297.4" y="839.2" font-family="'Liberation Serif', serif" font-size="12" font-weight="normal" text-anchor="middle" fill="#111">3</text>
<text x="452.4" y="839.2" font-family="'Liberation Serif', serif" font-size="12" font-weight="normal" text-anchor="middle" fill="#111">3(11.1)</text>
<text x="121.1" y="854.6" font-family="'Liberation Serif', serif" font-size="12" font-weight="normal" text-anchor="middle" fill="#111" textLength="36.2" lengthAdjust="spacingAndGlyphs">GrGp 2</text>
<text x="238.0" y="854.6" font-family="'Liberation Serif', serif" font-size="12" font-weight="normal" text-anchor="middle" fill="#111" textLength="36.2" lengthAdjust="spacingAndGlyphs">GrGp 2</text>
<text x="180.6" y="854.6" font-family="'Liberation Serif', serif" font-size="12" font-weight="normal" text-anchor="middle" fill="#111">5</text>
<text x="297.4" y="854.6" font-family="'Liberation Serif', serif" font-size="12" font-weight="normal" text-anchor="middle" fill="#111">8</text>
<text x="452.4" y="854.6" font-family="'Liberation Serif', serif" font-size="12" font-weight="normal" text-anchor="middle" fill="#111">17(63.0)</text>
<text x="121.1" y="869.1" font-family="'Liberation Serif', serif" font-size="12" font-weight="normal" text-anchor="middle" fill="#111" textLength="40.6" lengthAdjust="spacingAndGlyphs">GrGp≥3</text>
<text x="238.0" y="869.1" font-family="'Liberation Serif', serif" font-size="12" font-weight="normal" text-anchor="middle" fill="#111" textLength="40.6" lengthAdjust="spacingAndGlyphs">GrGp≥3</text>
<text x="180.6" y="869.1" font-family="'Liberation Serif', serif" font-size="12" font-weight="normal" text-anchor="middle" fill="#111">15</text>
<text x="297.4" y="869.1" font-family="'Liberation Serif', serif" font-size="12" font-weight="normal" text-anchor="middle" fill="#111">16</text>
<text x="452.4" y="869.1" font-family="'Liberation Serif', serif" font-size="12" font-weight="normal" text-anchor="middle" fill="#111">7(25.9)</text>
<text x="331.3" y="839.2" font-family="'Liberation Serif', serif" font-size="12" font-weight="normal" text-anchor="start" fill="#111" textLength="56.5" lengthAdjust="spacingAndGlyphs">Downgrade</text>
<text x="331.3" y="854.6" font-family="'Liberation Serif', serif" font-size="12" font-weight="normal" text-anchor="start" fill="#111" textLength="63.6" lengthAdjust="spacingAndGlyphs">Concordance</text>
<text x="331.3" y="869.1" font-family="'Liberation Serif', serif" font-size="12" font-weight="normal" text-anchor="start" fill="#111" textLength="41.5" lengthAdjust="spacingAndGlyphs">Upgrade</text>
<text x="520.4" y="854.3" font-family="'Liberation Serif', serif" font-size="12" font-weight="normal" text-anchor="middle" fill="#111">7</text>
<text x="583.4" y="854.3" font-family="'Liberation Serif', serif" font-size="12" font-weight="normal" text-anchor="middle" fill="#111">4</text>
<text x="651.4" y="854.3" font-family="'Liberation Serif', serif" font-size="12" font-weight="normal" text-anchor="middle" fill="#111">57.1</text>
</svg>
</body></html>
